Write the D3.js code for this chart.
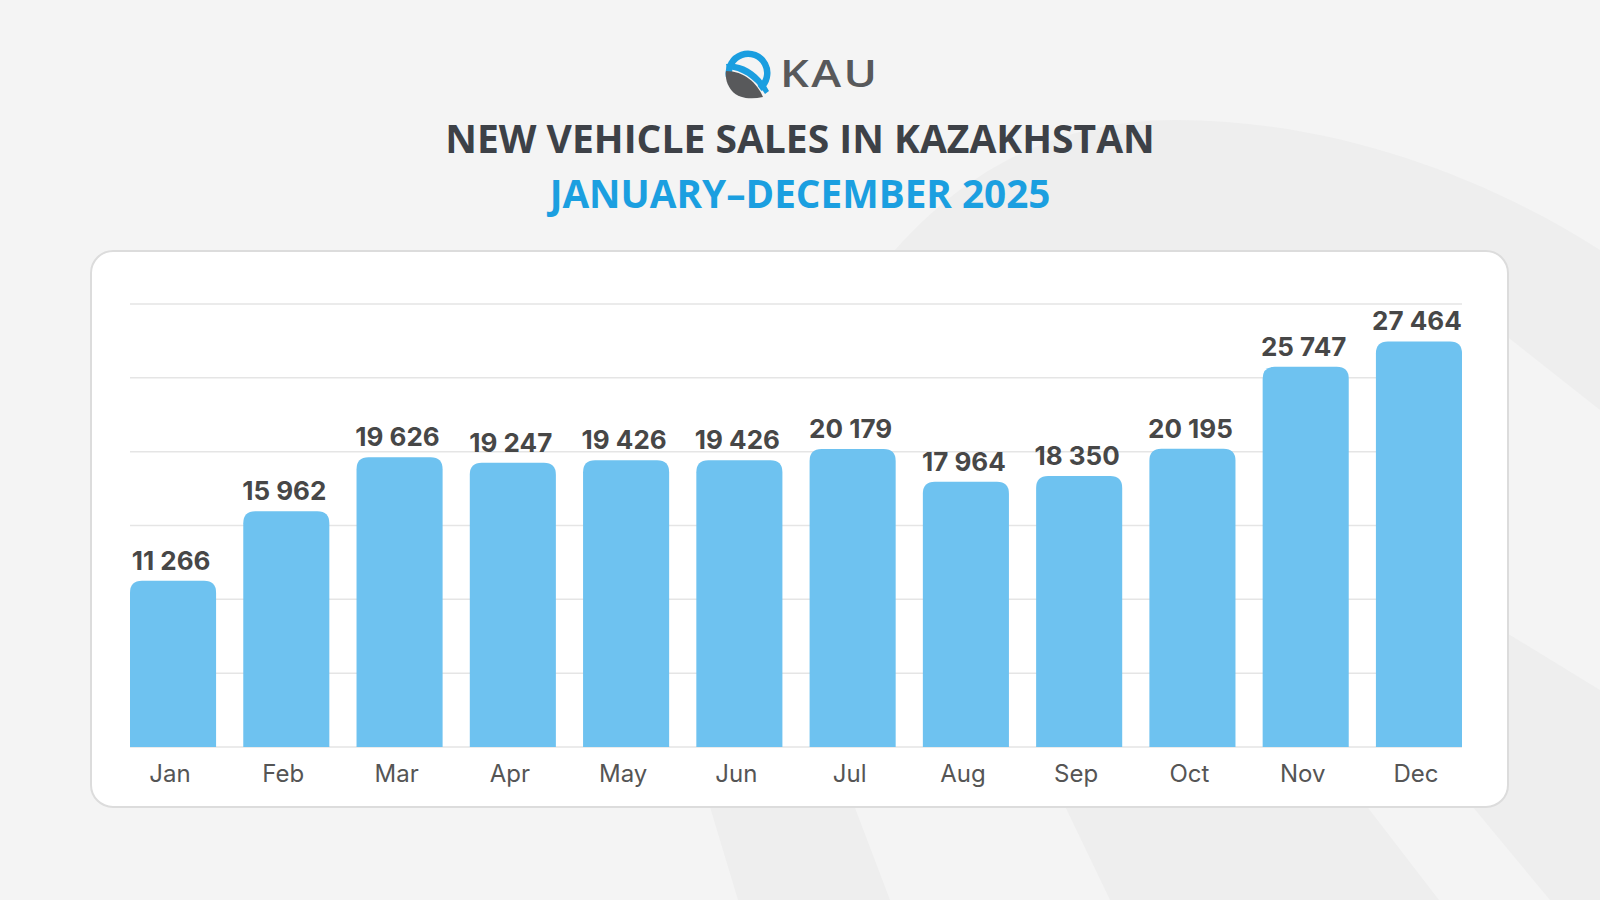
<!DOCTYPE html>
<html>
<head>
<meta charset="utf-8">
<script src="https://cdn.jsdelivr.net/npm/d3@7"></script>
<style>
  html, body { margin: 0; padding: 0; background: #f4f4f4; }
  svg { display: block; }
</style>
</head>
<body>
<svg id="chart" width="1600" height="900"></svg>
<script>
// data
var months = ['Jan', 'Feb', 'Mar', 'Apr', 'May', 'Jun', 'Jul', 'Aug', 'Sep', 'Oct', 'Nov', 'Dec'];
var sales = [11266, 15962, 19626, 19247, 19426, 19426, 20179, 17964, 18350, 20195, 25747, 27464];
var gridTicks = [0, 5000, 10000, 15000, 20000, 25000, 30000];

var titleText = 'NEW VEHICLE SALES IN KAZAKHSTAN';
var subtitleText = 'JANUARY\u2013DECEMBER 2025';

// setup
var svg = d3.select('#chart');
var fmt = d3.formatLocale({ decimal: '.', thousands: ' ', grouping: [3], currency: ['', ''] }).format(',d');

// background swooshes
var bg = svg.append('g');
bg.append('rect').attr('width', 1600).attr('height', 900).attr('fill', '#f4f4f4');
bg.append('path')
    .attr('d', 'M738,900 L710,807 L700,600 L895,250 C975,160 1070,120 1175,120 C1340,120 1490,180 1600,250 L1600,900 Z')
    .attr('fill', '#eeeeee');
bg.append('path')
    .attr('d', 'M1505,335 L1600,410 L1600,690 L1505,632 Z')
    .attr('fill', '#f4f4f4');
bg.append('path')
    .attr('d', 'M852,800 L1062,800 L1110,900 L890,900 Z')
    .attr('fill', '#f4f4f4');
bg.append('path')
    .attr('d', 'M1362,800 L1467,800 L1550,900 L1439,900 Z')
    .attr('fill', '#f4f4f4');

// logo
var logo = svg.append('g');
logo.append('path')
    .attr('transform', 'translate(748,73)')
    .attr('d', d3.arc()({ innerRadius: 16, outerRadius: 22.5, startAngle: -1.75, endAngle: 2.5 }))
    .attr('fill', '#1a9ee0');
logo.append('path')
    .attr('d', 'M726,64 C743,62 759,72 769,91 L765,94 C755,79 742,70 727,69 Z')
    .attr('fill', '#1a9ee0');
logo.append('path')
    .attr('d', 'M726,71 C744,71 757,83 763,97 C750,100 738,98 732,91 C727,85 725,78 726,71 Z')
    .attr('fill', '#58595b');
logo.append('text')
    .attr('transform', 'translate(780,87) scale(1.22,1)')
    .style('font-family', '"Open Sans", sans-serif')
    .style('font-weight', 600)
    .style('font-size', '37px')
    .style('letter-spacing', '2px')
    .style('fill', '#58595b')
    .text('KAU');

// titles
svg.append('text')
    .attr('x', 800)
    .attr('y', 153)
    .attr('text-anchor', 'middle')
    .style('font-family', '"Open Sans", sans-serif')
    .style('font-weight', 700)
    .style('font-size', '39px')
    .style('fill', '#3d4147')
    .text(titleText);

svg.append('text')
    .attr('x', 800)
    .attr('y', 208)
    .attr('text-anchor', 'middle')
    .style('font-family', '"Open Sans", sans-serif')
    .style('font-weight', 700)
    .style('font-size', '38.7px')
    .style('fill', '#1b9fe0')
    .text(subtitleText);

// card
svg.append('rect')
    .attr('x', 91)
    .attr('y', 251)
    .attr('width', 1417)
    .attr('height', 556)
    .attr('rx', 22)
    .attr('fill', '#ffffff')
    .attr('stroke', '#dcdcdc')
    .attr('stroke-width', 2);

// scales
var x = d3.scaleBand()
    .domain(months)
    .range([130, 1462])
    .paddingInner(0.24)
    .paddingOuter(0);

var y = d3.scaleLinear()
    .domain([0, 30000])
    .range([747, 304]);

// gridlines
svg.append('g')
    .selectAll('line')
    .data(gridTicks)
    .enter()
    .append('line')
    .attr('x1', 130)
    .attr('x2', 1462)
    .attr('y1', function(d) { return y(d); })
    .attr('y2', function(d) { return y(d); })
    .attr('stroke', '#e5e5e5')
    .attr('stroke-width', 1.5);

// bars with rounded tops
var radius = 12;
function barPath(d, i) {
    var x0 = x(months[i]);
    var w = x.bandwidth();
    var top = y(d);
    var bottom = y(0);
    return 'M' + x0 + ',' + bottom +
        'L' + x0 + ',' + (top + radius) +
        'Q' + x0 + ',' + top + ' ' + (x0 + radius) + ',' + top +
        'L' + (x0 + w - radius) + ',' + top +
        'Q' + (x0 + w) + ',' + top + ' ' + (x0 + w) + ',' + (top + radius) +
        'L' + (x0 + w) + ',' + bottom + 'Z';
}

svg.append('g')
    .selectAll('path')
    .data(sales)
    .enter()
    .append('path')
    .attr('d', barPath)
    .attr('fill', '#6ec2f0');

// value labels
svg.append('g')
    .selectAll('text')
    .data(sales)
    .enter()
    .append('text')
    .attr('x', function(d, i) { return x(months[i]) + x.bandwidth() / 2 - 2; })
    .attr('y', function(d) { return y(d) - 11; })
    .attr('text-anchor', 'middle')
    .style('font-family', 'Inter, sans-serif')
    .style('font-weight', 700)
    .style('font-size', '26px')
    .style('fill', '#474747')
    .text(function(d) { return fmt(d); });

// month axis
var axis = svg.append('g')
    .attr('transform', 'translate(0,' + y(0) + ')')
    .call(d3.axisBottom(x).tickSize(0).tickPadding(35));
axis.select('.domain').remove();
axis.selectAll('text')
    .attr('dy', 0)
    .attr('dx', -3)
    .style('font-family', 'Inter, sans-serif')
    .style('font-weight', 400)
    .style('font-size', '24px')
    .style('fill', '#555555');
</script>
</body>
</html>
